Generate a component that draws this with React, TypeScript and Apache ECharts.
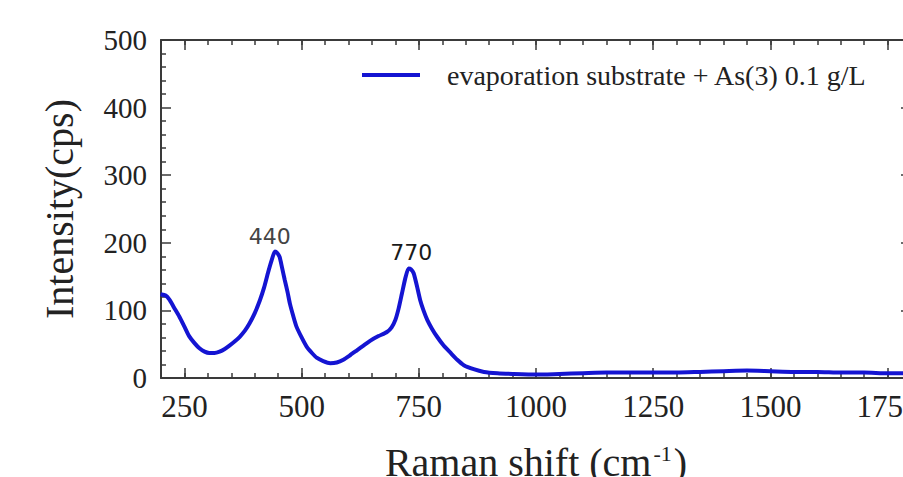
import { useEffect, useRef } from 'react';
import * as echarts from 'echarts';

const ramanShift = [199, 210, 218, 228, 239, 250, 260, 271, 282, 293, 303, 314, 325, 336, 346, 357, 368, 379, 389, 400, 411, 420, 428, 436, 443, 448, 453, 458, 464, 470, 475, 482, 489, 500, 511, 522, 532, 546, 561, 575, 589, 604, 618, 632, 646, 664, 682, 692, 700, 707, 714, 721, 728, 733, 739, 746, 753, 760, 768, 778, 789, 803, 818, 832, 846, 867, 889, 918, 950, 1000, 1050, 1100, 1150, 1200, 1250, 1300, 1350, 1400, 1450, 1500, 1550, 1600, 1650, 1700, 1750, 1790];
const intensity = [124, 122, 116, 104, 91, 76, 62, 52, 44, 39, 37, 37, 39, 43, 48, 54, 61, 70, 81, 96, 115, 134, 155, 174, 187, 185, 179, 164, 145, 127, 110, 92, 76, 60, 46, 37, 30, 25, 22, 23, 27, 34, 41, 48, 55, 62, 68, 75, 86, 103, 125, 147, 162, 161, 155, 136, 115, 100, 86, 73, 61, 48, 37, 27, 19, 13, 9, 7, 6, 5, 6, 7, 8, 8, 8, 8, 9, 10, 11, 10, 9, 9, 8, 8, 7, 7];

const seriesName = 'evaporation substrate + As(3) 0.1 g/L';
const xMajorTicks = [250, 500, 750, 1000, 1250, 1500, 1750];
const peakLabels = ['440', '770'];
const peakLabelPos = [[432, 210], [734, 186]];
const peakLabelColors = ['#444', '#1a1a1a'];

const serif = "'Liberation Serif', 'Times New Roman', serif";
const axisColor = '#3a3a3a';

export default function App() {
  const ref = useRef<HTMLDivElement>(null);
  useEffect(() => {
    if (!ref.current) return;
    const chart = echarts.init(ref.current, null, { renderer: 'svg' });
    const data = ramanShift.map((x, i) => [x, intensity[i]]);
    const baseX = {
      type: 'value' as const,
      min: 200,
      max: 1800,
      splitLine: { show: false },
      gridIndex: 0,
    };
    const baseY = {
      type: 'value' as const,
      min: 0,
      max: 500,
      interval: 100,
      splitLine: { show: false },
      axisLine: { show: true, lineStyle: { color: axisColor, width: 2 } },
      axisTick: { show: true, inside: true, length: 10, lineStyle: { color: axisColor, width: 1.5 } },
      minorTick: { show: true, splitNumber: 5, length: 5, lineStyle: { color: axisColor, width: 1.5 } },
    };
    chart.setOption({
      animation: false,
      backgroundColor: '#ffffff',
      grid: { left: 161, top: 40, right: 1, bottom: 99, containLabel: false, outerBoundsMode: 'none' },
      legend: {
        data: [seriesName],
        left: 362,
        top: 61,
        padding: 0,
        icon: 'rect',
        itemWidth: 58,
        itemHeight: 4,
        textStyle: { fontFamily: serif, fontSize: 28, color: '#222', padding: [0, 0, 0, 22] },
      },
      xAxis: [
        {
          ...baseX,
          position: 'bottom',
          interval: 50,
          axisLine: { show: true, lineStyle: { color: axisColor, width: 2 } },
          axisTick: { show: true, inside: true, length: 5, lineStyle: { color: axisColor, width: 1.5 } },
          axisLabel: {
            formatter: (v: number) => (v % 250 === 0 ? String(v) : ''),
            fontFamily: serif,
            fontSize: 31,
            color: '#222',
            margin: 13,
          },
          name: '{a|Raman shift (cm}{s|-1}{a|)}',
          nameLocation: 'middle',
          nameGap: 64,
          nameTextStyle: {
            rich: {
              a: { fontFamily: serif, fontSize: 40, color: '#222' },
              s: { fontFamily: serif, fontSize: 22, color: '#222', verticalAlign: 'top', padding: [0, 2, 16, 2] },
            },
          },
        },
        {
          ...baseX,
          position: 'bottom',
          axisLine: { show: false },
          axisTick: { show: true, inside: true, length: 10, customValues: xMajorTicks, lineStyle: { color: axisColor, width: 1.5 } },
          axisLabel: { show: false },
        },
        {
          ...baseX,
          position: 'top',
          interval: 50,
          axisLine: { show: true, lineStyle: { color: axisColor, width: 2 } },
          axisTick: { show: true, inside: true, length: 5, lineStyle: { color: axisColor, width: 1.5 } },
          axisLabel: { show: false },
        },
        {
          ...baseX,
          position: 'top',
          axisLine: { show: false },
          axisTick: { show: true, inside: true, length: 10, customValues: xMajorTicks, lineStyle: { color: axisColor, width: 1.5 } },
          axisLabel: { show: false },
        },
      ],
      yAxis: [
        {
          ...baseY,
          position: 'left',
          axisLabel: { fontFamily: serif, fontSize: 29, color: '#222', margin: 14 },
          name: 'Intensity(cps)',
          nameLocation: 'middle',
          nameGap: 82,
          nameRotate: 90,
          nameTextStyle: { fontFamily: serif, fontSize: 40, color: '#222' },
        },
        {
          ...baseY,
          position: 'right',
          axisLabel: { show: false },
        },
      ],
      series: [
        {
          name: seriesName,
          type: 'line',
          xAxisIndex: 0,
          yAxisIndex: 0,
          data,
          showSymbol: false,
          smooth: 0.2,
          color: '#1414d2',
          lineStyle: { color: '#1414d2', width: 4 },
          markPoint: {
            symbol: 'circle',
            symbolSize: 0,
            data: peakLabels.map((t, i) => ({
              name: t,
              coord: peakLabelPos[i],
              label: {
                show: true,
                position: 'inside',
                formatter: t,
                fontFamily: "'DejaVu Sans', sans-serif",
                fontSize: 22,
                color: peakLabelColors[i],
              },
            })),
          },
        },
      ],
    });
    return () => chart.dispose();
  }, []);
  return (
    <div style={{ position: 'fixed', left: 0, top: 0, width: 903, height: 477, overflow: 'hidden', background: '#fff' }}>
      <div ref={ref} style={{ width: 912, height: 477 }} />
    </div>
  );
}
